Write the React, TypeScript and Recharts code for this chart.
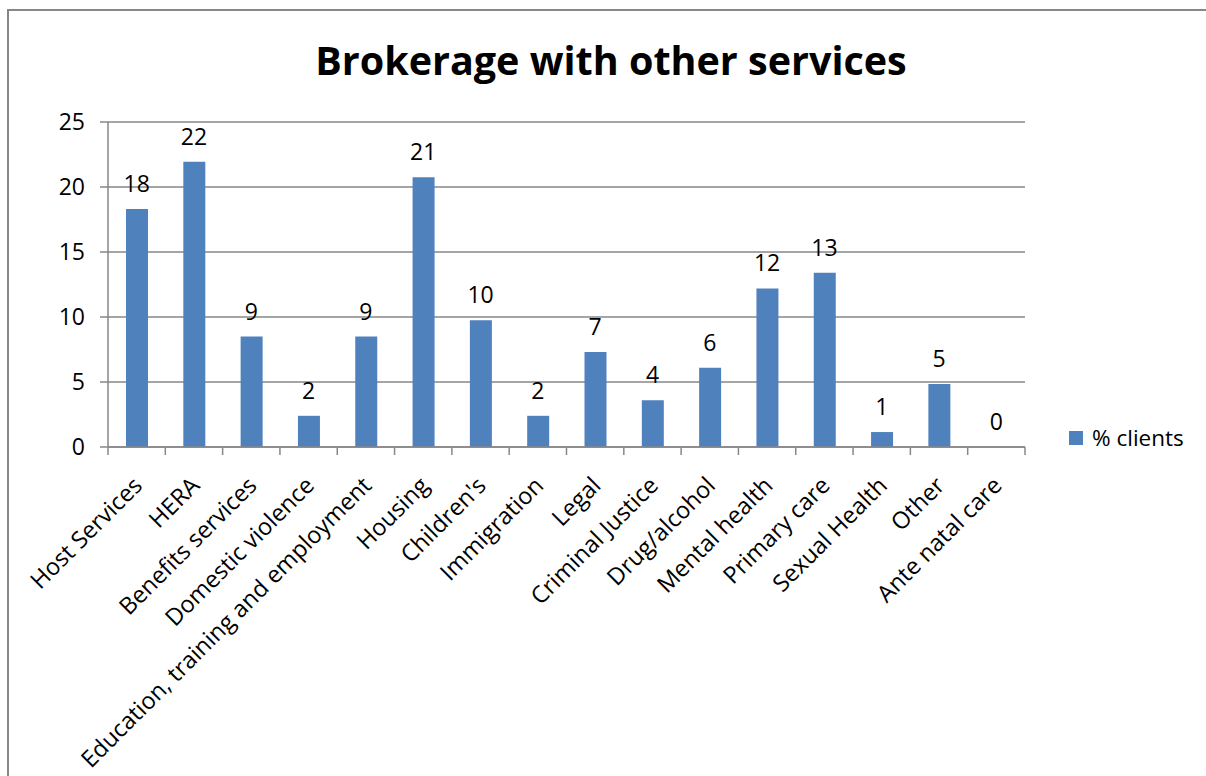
import { Bar, CartesianGrid, ComposedChart, LabelList, Line, XAxis, YAxis } from 'recharts'

const categories = [
  'Host Services',
  'HERA',
  'Benefits services',
  'Domestic violence',
  'Education, training and employment',
  'Housing',
  "Children's",
  'Immigration',
  'Legal',
  'Criminal Justice',
  'Drug/alcohol',
  'Mental health',
  'Primary care',
  'Sexual Health',
  'Other',
  'Ante natal care',
]
const clientShare = [18.3, 21.95, 8.5, 2.4, 8.5, 20.75, 9.75, 2.4, 7.3, 3.6, 6.1, 12.2, 13.4, 1.15, 4.85, 0]
const yTicks = [0, 5, 10, 15, 20, 25]
const seriesName = '% clients'
const chartTitle = 'Brokerage with other services'

const data = categories.map((name, i) => ({ name, clients: clientShare[i] }))

const W = 1206
const H = 776
const margin = { top: 122, right: 181, bottom: 0, left: 48 }
const yAxisWidth = 60
const plotHeight = 325
const band = (W - margin.left - margin.right - yAxisWidth) / categories.length

const font = "'Open Sans', sans-serif"
const axisColor = '#878787'
const barColor = '#4F81BD'

function CategoryTick(props: any) {
  const { x, y, payload, index } = props
  const half = band / 2
  const ax = x + 7
  const ay = y + 40
  return (
    <g>
      <line x1={x - half} x2={x - half} y1={y} y2={y + 8} stroke={axisColor} strokeWidth={1.5} />
      {index === categories.length - 1 && (
        <line x1={x + half} x2={x + half} y1={y} y2={y + 8} stroke={axisColor} strokeWidth={1.5} />
      )}
      <text
        x={ax}
        y={ay}
        transform={`rotate(-45, ${ax}, ${ay})`}
        textAnchor="end"
        fill="#000"
        fontSize={23.5}
        fontFamily={font}
      >
        {payload.value}
      </text>
    </g>
  )
}

export default function App() {
  return (
    <div style={{ position: 'relative', width: W, height: H, overflow: 'hidden', background: '#fff', fontFamily: font }}>
      <style>{'html,body{margin:0;overflow:hidden}'}</style>
      <div
        style={{
          position: 'absolute',
          left: 7,
          top: 9,
          width: W,
          height: H,
          borderLeft: `2px solid ${axisColor}`,
          borderTop: `2px solid ${axisColor}`,
        }}
      />
      <div
        style={{
          position: 'absolute',
          left: 0,
          width: 1222,
          top: 33,
          textAlign: 'center',
          fontSize: 39.5,
          fontWeight: 700,
          color: '#000',
        }}
      >
        {chartTitle}
      </div>
      <div style={{ position: 'absolute', left: 0, top: 0 }}>
        <ComposedChart width={W} height={H} data={data} margin={margin}>
          <CartesianGrid horizontal vertical={false} stroke={axisColor} strokeWidth={1.5} />
          <XAxis
            dataKey="name"
            interval={0}
            height={H - margin.top - plotHeight}
            axisLine={{ stroke: axisColor, strokeWidth: 1.5 }}
            tickLine={false}
            tickSize={0}
            tickMargin={0}
            tick={<CategoryTick />}
          />
          <YAxis
            width={yAxisWidth}
            domain={[0, 25]}
            ticks={yTicks}
            axisLine={{ stroke: axisColor, strokeWidth: 1.5 }}
            tickLine={{ stroke: axisColor, strokeWidth: 1.5 }}
            tickSize={8}
            tickMargin={15}
            tick={{ fill: '#000', fontSize: 23, fontFamily: font }}
          />
          <Bar dataKey="clients" name={seriesName} fill={barColor} barSize={22} isAnimationActive={false} />
          {/* labels ride on an invisible line so the zero bar still gets its "0" */}
          <Line
            dataKey="clients"
            stroke="none"
            dot={false}
            activeDot={false}
            legendType="none"
            isAnimationActive={false}
          >
            <LabelList
              dataKey="clients"
              position="top"
              offset={17}
              formatter={(v: any) => String(Math.round(Number(v)))}
              fill="#000"
              fontSize={23}
              fontFamily={font}
            />
          </Line>
        </ComposedChart>
      </div>
      <div
        style={{
          position: 'absolute',
          left: 1069,
          top: 422,
          display: 'flex',
          alignItems: 'center',
          fontSize: 22.5,
          color: '#000',
        }}
      >
        <span style={{ display: 'inline-block', width: 14, height: 14, background: barColor, marginRight: 9 }} />
        <span>{seriesName}</span>
      </div>
    </div>
  )
}
